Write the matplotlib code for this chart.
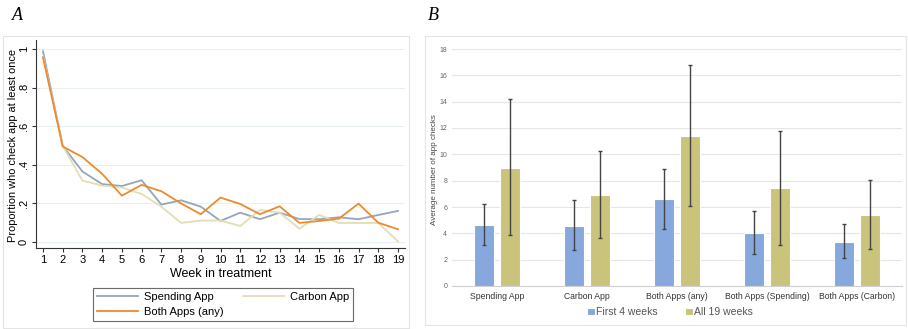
import matplotlib
matplotlib.use("Agg")
import matplotlib.pyplot as plt
from matplotlib.patches import Rectangle
import numpy as np

plt.rcParams["font.family"] = ["Liberation Sans", "DejaVu Sans"]

weeks = list(range(1, 20))
spending = [0.988, 0.498, 0.365, 0.300, 0.290, 0.320, 0.194, 0.216, 0.183, 0.109,
            0.152, 0.118, 0.152, 0.119, 0.118, 0.128, 0.118, 0.140, 0.161]
carbon = [0.962, 0.498, 0.318, 0.292, 0.282, 0.249, 0.183, 0.099, 0.111, 0.111,
          0.083, 0.166, 0.152, 0.069, 0.140, 0.099, 0.099, 0.099, 0.003]
both = [0.957, 0.495, 0.440, 0.353, 0.240, 0.296, 0.263, 0.200, 0.144, 0.230,
        0.197, 0.144, 0.185, 0.099, 0.109, 0.121, 0.199, 0.100, 0.066]

categories = ["Spending App", "Carbon App", "Both Apps (any)", "Both Apps (Spending)", "Both Apps (Carbon)"]
first4 = [4.65, 4.58, 6.57, 4.04, 3.36]
first4_lo = [3.10, 2.70, 4.33, 2.45, 2.10]
first4_hi = [6.20, 6.50, 8.90, 5.70, 4.70]
all19 = [8.97, 6.90, 11.40, 7.46, 5.43]
all19_lo = [3.85, 3.65, 6.10, 3.10, 2.80]
all19_hi = [14.20, 10.25, 16.75, 11.75, 8.05]

W, H = 908, 329
fig = plt.figure(figsize=(W / 100, H / 100), dpi=100)

def box(x0, y0, x1, y1):
    return [x0 / W, 1 - y1 / H, (x1 - x0) / W, (y1 - y0) / H]

# panel frames
fig.patches.append(Rectangle((3 / W, 1 - 328 / H), (409 - 3) / W, (328 - 36) / H,
                             transform=fig.transFigure, fill=False, ec="#E4E4E4", lw=0.8))
fig.patches.append(Rectangle((425 / W, 1 - 325 / H), (906 - 425) / W, (325 - 36) / H,
                             transform=fig.transFigure, fill=False, ec="#E4E4E4", lw=0.8))

fig.text(12 / W, 1 - 16 / H, "A", family="Liberation Serif", style="italic", fontsize=13, va="center")
fig.text(428 / W, 1 - 16 / H, "B", family="Liberation Serif", style="italic", fontsize=13, va="center")

# ---- Panel A ----
axA = fig.add_axes(box(36, 40, 405, 248))
lS, = axA.plot(weeks, spending, color="#94A6BD", lw=1.3, label="Spending App")
lC, = axA.plot(weeks, carbon, color="#E3DDB4", lw=1.3, label="Carbon App")
lB, = axA.plot(weeks, both, color="#EE8A2E", lw=1.3, label="Both Apps (any)")
axA.set_xlim(1 - 7 / 19.72, 19 + 7 / 19.72)
axA.set_ylim(-6 / 193, 1 + 9 / 193)
axA.set_xticks(weeks)
axA.set_yticks([0, 0.2, 0.4, 0.6, 0.8, 1.0])
axA.set_yticklabels(["0", ".2", ".4", ".6", ".8", "1"], rotation=90, va="center")
axA.tick_params(axis="both", labelsize=8, length=3, color="#333333", width=0.8, pad=2)
axA.grid(axis="y", color="#E8F0F2", lw=0.8)
axA.set_axisbelow(True)
for s in ["top", "right"]:
    axA.spines[s].set_visible(False)
for s in ["left", "bottom"]:
    axA.spines[s].set_color("#333333")
    axA.spines[s].set_linewidth(0.8)
axA.set_xlabel("Week in treatment", fontsize=9, labelpad=2)
axA.set_ylabel("Proportion who check app at least once", fontsize=7.9)
axA.yaxis.set_label_coords(-(36 - 18) / 369, (248 - 145) / 208)
legA = fig.legend([lS, lB, lC], ["Spending App", "Both Apps (any)", "Carbon App"], ncol=2, fontsize=8,
                  loc="upper left", bbox_to_anchor=(93 / W, 1 - 288 / H),
                  frameon=True, fancybox=False, edgecolor="#444444",
                  handlelength=3.7, columnspacing=1.7, borderpad=0.35, labelspacing=0.45,
                  handletextpad=0.55, borderaxespad=0)
legA.get_frame().set_linewidth(0.8)

# ---- Panel B ----
axB = fig.add_axes(box(452, 49, 902, 286))
x = np.arange(len(categories))
bw = 0.222
off = 0.145
ekw = dict(ecolor="#444444", elinewidth=1.0, capsize=1.5, capthick=1.0)
axB.bar(x - off, first4, bw, color="#87A8DD", edgecolor="white", lw=0.8, label="First 4 weeks",
        yerr=[np.array(first4) - np.array(first4_lo), np.array(first4_hi) - np.array(first4)],
        error_kw=ekw, zorder=3)
axB.bar(x + off, all19, bw, color="#C9C37B", edgecolor="white", lw=0.8, label="All 19 weeks",
        yerr=[np.array(all19) - np.array(all19_lo), np.array(all19_hi) - np.array(all19)],
        error_kw=ekw, zorder=3)
axB.set_xlim(-0.5, len(categories) - 0.5)
axB.set_ylim(0, 18)
axB.set_yticks(range(0, 19, 2))
axB.set_xticks(x)
axB.set_xticklabels(categories)
axB.tick_params(axis="y", labelsize=5, labelcolor="#666666", length=0, pad=3.5)
axB.tick_params(axis="x", labelsize=6.2, labelcolor="#333333", length=0, pad=4)
axB.grid(axis="y", color="#E6E6E6", lw=0.8)
axB.set_axisbelow(True)
for s in ["top", "right", "left"]:
    axB.spines[s].set_visible(False)
axB.spines["bottom"].set_color("#D0D0D0")
axB.set_ylabel("Average number of app checks", fontsize=5.8, color="#444444")
axB.yaxis.set_label_coords(-(452 - 438) / 450, (286 - 170) / 237)
legB = fig.legend(*axB.get_legend_handles_labels(), ncol=2, fontsize=7.5, frameon=False,
                  loc="center", bbox_to_anchor=(670 / W, 1 - 312 / H),
                  handlelength=0.75, handleheight=0.75, handletextpad=0.15, columnspacing=2.6,
                  labelcolor="#555555")

fig.savefig("out.png", dpi=100)
